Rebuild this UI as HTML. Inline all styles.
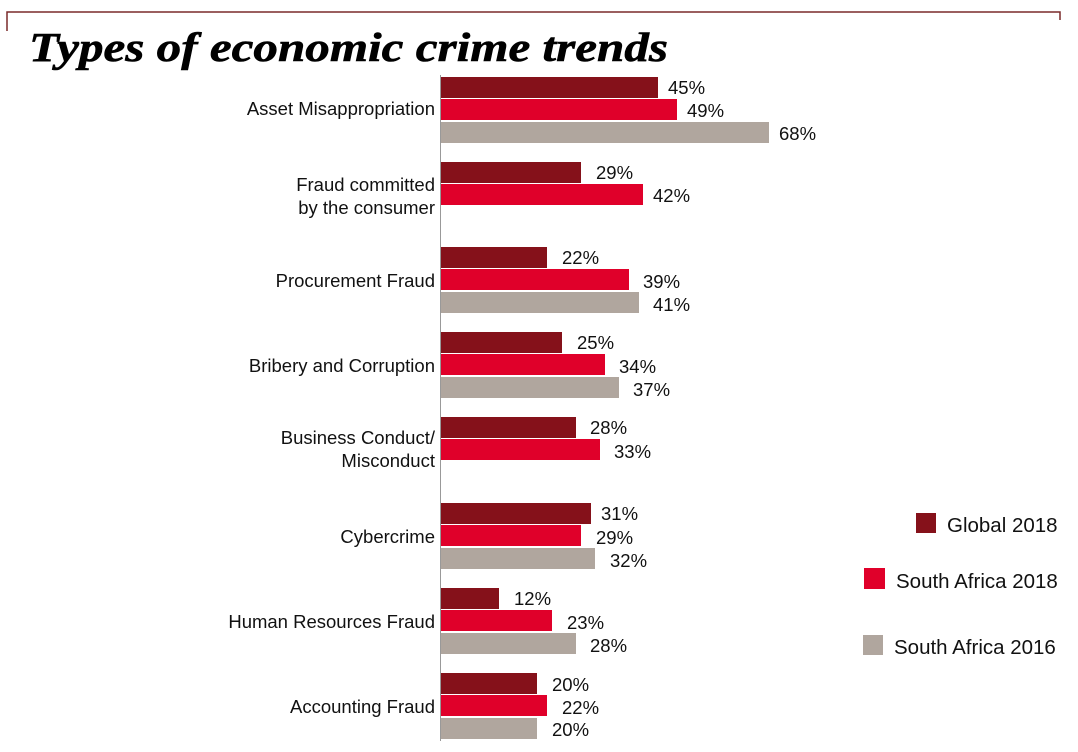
<!DOCTYPE html>
<html><head><style>
body{margin:0;background:#fff;}
svg text{font-family:"Liberation Sans",Arial,sans-serif;fill:#111;}
</style></head><body>
<svg width="1078" height="747" viewBox="0 0 1078 747" xmlns="http://www.w3.org/2000/svg">
<polyline points="7,31 7,12 1060,12 1060,20" fill="none" stroke="#7a2a2a" stroke-width="1.5"/>
<text x="29" y="61" textLength="639" lengthAdjust="spacingAndGlyphs" style="font-family:'Liberation Serif',serif;font-style:italic;font-weight:bold;font-size:41px;fill:#000;stroke:#000;stroke-width:0.6">Types of economic crime trends</text>
<line x1="440.5" y1="75" x2="440.5" y2="741" stroke="#999" stroke-width="1"/>
<g font-size="18.5" text-anchor="end">
<text x="435" y="115">Asset Misappropriation</text>
<text x="435" y="191">Fraud committed</text>
<text x="435" y="214">by the consumer</text>
<text x="435" y="287">Procurement Fraud</text>
<text x="435" y="372">Bribery and Corruption</text>
<text x="435" y="444">Business Conduct/</text>
<text x="435" y="467">Misconduct</text>
<text x="435" y="543">Cybercrime</text>
<text x="435" y="628">Human Resources Fraud</text>
<text x="435" y="713">Accounting Fraud</text>
</g>
<g font-size="18.5">
<rect x="441" y="77" width="217" height="21" fill="#85111a"/><text x="668" y="94">45%</text>
<rect x="441" y="99" width="236" height="21" fill="#e0002a"/><text x="687" y="117">49%</text>
<rect x="441" y="122" width="328" height="21" fill="#b0a69e"/><text x="779" y="140">68%</text>
<rect x="441" y="162" width="140" height="21" fill="#85111a"/><text x="596" y="179">29%</text>
<rect x="441" y="184" width="202" height="21" fill="#e0002a"/><text x="653" y="202">42%</text>
<rect x="441" y="247" width="106" height="21" fill="#85111a"/><text x="562" y="264">22%</text>
<rect x="441" y="269" width="188" height="21" fill="#e0002a"/><text x="643" y="288">39%</text>
<rect x="441" y="292" width="198" height="21" fill="#b0a69e"/><text x="653" y="311">41%</text>
<rect x="441" y="332" width="121" height="21" fill="#85111a"/><text x="577" y="349">25%</text>
<rect x="441" y="354" width="164" height="21" fill="#e0002a"/><text x="619" y="373">34%</text>
<rect x="441" y="377" width="178" height="21" fill="#b0a69e"/><text x="633" y="396">37%</text>
<rect x="441" y="417" width="135" height="21" fill="#85111a"/><text x="590" y="434">28%</text>
<rect x="441" y="439" width="159" height="21" fill="#e0002a"/><text x="614" y="458">33%</text>
<rect x="441" y="503" width="150" height="21" fill="#85111a"/><text x="601" y="520">31%</text>
<rect x="441" y="525" width="140" height="21" fill="#e0002a"/><text x="596" y="544">29%</text>
<rect x="441" y="548" width="154" height="21" fill="#b0a69e"/><text x="610" y="567">32%</text>
<rect x="441" y="588" width="58" height="21" fill="#85111a"/><text x="514" y="605">12%</text>
<rect x="441" y="610" width="111" height="21" fill="#e0002a"/><text x="567" y="629">23%</text>
<rect x="441" y="633" width="135" height="21" fill="#b0a69e"/><text x="590" y="652">28%</text>
<rect x="441" y="673" width="96" height="21" fill="#85111a"/><text x="552" y="691">20%</text>
<rect x="441" y="695" width="106" height="21" fill="#e0002a"/><text x="562" y="714">22%</text>
<rect x="441" y="718" width="96" height="21" fill="#b0a69e"/><text x="552" y="736">20%</text>
</g>
<g font-size="20.5">
<rect x="916" y="513" width="20" height="20" fill="#85111a"/><text x="947" y="532">Global 2018</text>
<rect x="864" y="568" width="21" height="21" fill="#e0002a"/><text x="896" y="588">South Africa 2018</text>
<rect x="863" y="635" width="20" height="20" fill="#b0a69e"/><text x="894" y="654">South Africa 2016</text>
</g>
</svg>
</body></html>
